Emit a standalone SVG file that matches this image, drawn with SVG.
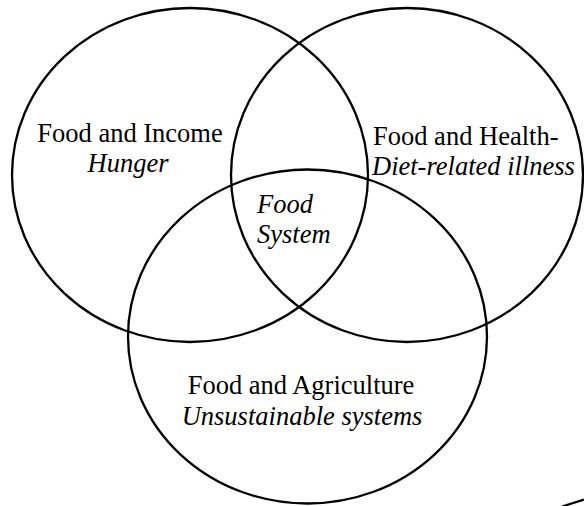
<svg xmlns="http://www.w3.org/2000/svg" width="584" height="506" viewBox="0 0 584 506">
<style>
.ring{fill:none;stroke:#000;stroke-width:2.3}
.t{font-family:"Liberation Serif","Times New Roman",serif;font-size:26.5px;fill:#000}
.i{font-style:italic}
.c{text-anchor:middle}
</style>
<rect width="584" height="506" fill="#fff"/>
<g id="income">
<ellipse class="ring" cx="190" cy="175" rx="178" ry="167"/>
<text class="t c" x="130" y="142">Food and Income</text>
<text class="t i c" x="128" y="172">Hunger</text>
</g>
<g id="health">
<ellipse class="ring" cx="407" cy="175" rx="176" ry="167"/>
<text class="t" x="373" y="145">Food and Health-</text>
<text class="t i" x="372" y="175">Diet-related illness</text>
</g>
<g id="agriculture">
<ellipse class="ring" cx="307.5" cy="336.5" rx="179.5" ry="167"/>
<text class="t c" x="301" y="394">Food and Agriculture</text>
<text class="t i c" x="302" y="425">Unsustainable systems</text>
</g>
<g id="system">
<text class="t i" x="257" y="213">Food</text>
<text class="t i" x="257" y="243">System</text>
</g>
<g id="connectors">
<path class="ring" d="M562 506.5 Q573 503 584 499.5"/>
</g>
</svg>
